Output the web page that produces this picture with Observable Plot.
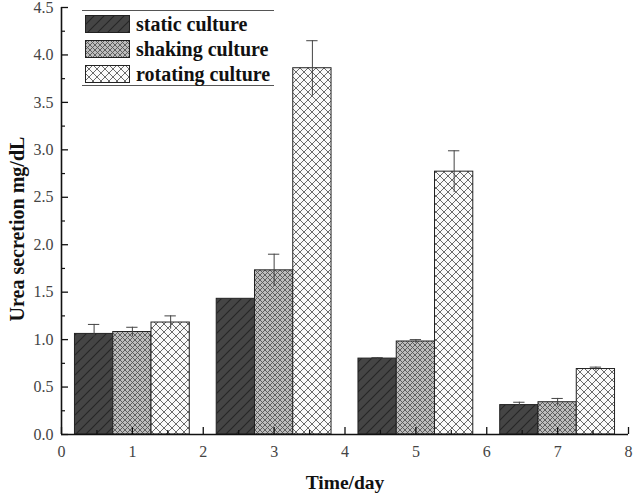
<!DOCTYPE html>
<html>
<head>
<meta charset="utf-8">
<script src="https://cdn.jsdelivr.net/npm/d3@7"></script>
<script src="https://cdn.jsdelivr.net/npm/@observablehq/plot@0.6"></script>
<style>
  body { margin: 0; background: #fff; }
  #wrap { position: relative; width: 634px; height: 496px; }
  #legend { position: absolute; left: 82px; top: 10px; width: 192px; height: 74px;
    border-top: 1.2px solid #555; border-bottom: 1.2px solid #555;
    font-family: "Liberation Serif", "Times New Roman", serif; font-weight: bold; font-size: 20px; color: #111; }
  .row { position: absolute; left: 3px; height: 18px; display: flex; align-items: center; }
  .row svg { width: 45px; height: 18px; display: block; }
  .row span { margin-left: 6px; line-height: 18px; }
</style>
</head>
<body>
<svg width="0" height="0" style="position:absolute">
  <defs>
    <pattern id="pStatic" patternUnits="userSpaceOnUse" width="10" height="10">
      <rect width="10" height="10" fill="#454545"/>
      <path d="M-1,11 L11,-1 M-3,3 L3,-3 M7,13 L13,7" stroke="#262626" stroke-width="1.2"/>
    </pattern>
    <pattern id="pShaking" patternUnits="userSpaceOnUse" width="5" height="5">
      <rect width="5" height="5" fill="#bdbdbd"/>
      <path d="M0,0 L5,5 M0,5 L5,0" stroke="#555" stroke-width="0.9"/>
    </pattern>
    <pattern id="pRotating" patternUnits="userSpaceOnUse" width="8" height="8">
      <rect width="8" height="8" fill="#fafafa"/>
      <path d="M0,0 L8,8 M0,8 L8,0" stroke="#6a6a6a" stroke-width="1"/>
    </pattern>
  </defs>
</svg>
<div id="wrap">
  <div id="chart"></div>
  <div id="legend"></div>
</div>
<script>
const days = [1, 3, 5, 7];
const seriesNames = ["static culture", "shaking culture", "rotating culture"];
const staticValues = [1.06, 1.43, 0.80, 0.31];
const staticErrors = [0.10, 0, 0.01, 0.03];
const shakingValues = [1.08, 1.73, 0.98, 0.34];
const shakingErrors = [0.05, 0.17, 0.02, 0.04];
const rotatingValues = [1.18, 3.86, 2.77, 0.69];
const rotatingErrors = [0.07, 0.29, 0.22, 0.02];
const yTicks = [0, 0.5, 1, 1.5, 2, 2.5, 3, 3.5, 4, 4.5];
const xTicks = [0, 1, 2, 3, 4, 5, 6, 7, 8];

const patterns = ["url(#pStatic)", "url(#pShaking)", "url(#pRotating)"];
const barWidth = 0.54;
const valueSets = [staticValues, shakingValues, rotatingValues];
const errorSets = [staticErrors, shakingErrors, rotatingErrors];

const rows = [];
valueSets.forEach((vals, s) => {
  days.forEach((d, i) => {
    const c = d + (s - 1) * barWidth;
    rows.push({day: d, series: s, center: c, x1: c - barWidth / 2, x2: c + barWidth / 2,
      value: vals[i], err: errorSets[s][i], fill: patterns[s]});
  });
});
const errRows = rows.filter(r => r.err > 0);
const minorY = d3.range(0.25, 4.5, 0.5);
const minorX = d3.range(0.5, 8, 1);

const font = `"Liberation Serif", "Times New Roman", serif`;

const chart = Plot.plot({
  width: 634,
  height: 496,
  marginLeft: 61,
  marginRight: 6,
  marginTop: 7,
  marginBottom: 62,
  style: {fontFamily: font, fontSize: "16px", color: "#111", background: "#fff"},
  x: {domain: [0, 8]},
  y: {domain: [0, 4.5]},
  color: {type: "identity"},
  marks: [
    Plot.rectY(rows, {x1: "x1", x2: "x2", y1: 0, y2: "value", fill: "fill", stroke: "#222", strokeWidth: 1}),
    Plot.ruleX(errRows, {x: "center", y1: d => d.value - d.err, y2: d => d.value + d.err, stroke: "#444", strokeWidth: 1}),
    Plot.ruleY(errRows, {y: d => d.value + d.err, x1: d => d.center - 0.08, x2: d => d.center + 0.08, stroke: "#444", strokeWidth: 1}),
    Plot.axisY({ticks: yTicks, tickSize: -7, tickPadding: 15, tickFormat: d3.format(".1f"), label: null, fill: "#444", strokeWidth: 1.3}),
    Plot.axisY({ticks: minorY, tickSize: -4, tickFormat: () => "", label: null, strokeWidth: 1.2}),
    Plot.axisX({ticks: xTicks, tickSize: -7, tickPadding: 18, tickFormat: d3.format("d"), label: null, fill: "#444", strokeWidth: 1.3}),
    Plot.axisX({ticks: minorX, tickSize: -4, tickFormat: () => "", label: null, strokeWidth: 1.2}),
    Plot.ruleX([0], {stroke: "#111", strokeWidth: 1.6}),
    Plot.ruleY([0], {stroke: "#111", strokeWidth: 1.6}),
    Plot.text(["Urea secretion mg/dL"], {frameAnchor: "left", textAnchor: "middle", rotate: -90, dx: -44, dy: 8, fontWeight: "bold", fontSize: 20, fill: "#111"}),
    Plot.text(["Time/day"], {frameAnchor: "bottom", dy: 54, fontWeight: "bold", fontSize: 19.5, fill: "#111"})
  ]
});
document.getElementById("chart").appendChild(chart);

const legend = document.getElementById("legend");
const tops = [4, 29, 54];
seriesNames.forEach((name, i) => {
  const row = document.createElement("div");
  row.className = "row";
  row.style.top = tops[i] + "px";
  row.innerHTML = `<svg viewBox="0 0 45 18"><rect x="0.5" y="0.5" width="44" height="17" fill="${patterns[i]}" stroke="#222" stroke-width="1"/></svg><span>${name}</span>`;
  legend.appendChild(row);
});
</script>
</body>
</html>
